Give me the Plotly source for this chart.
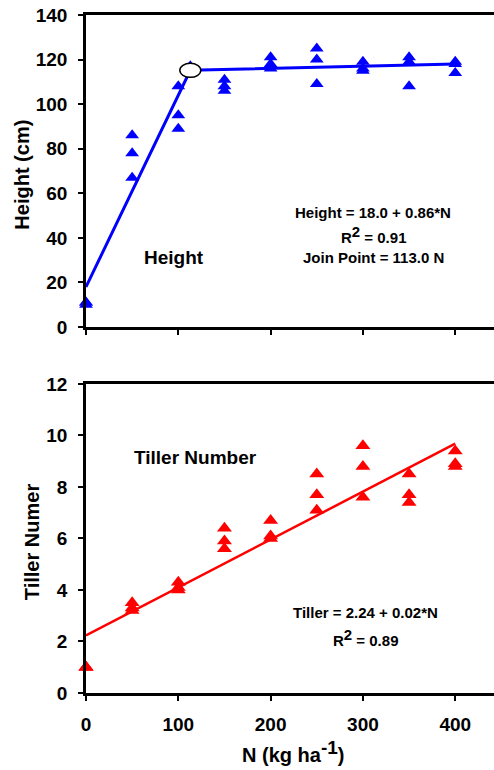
import plotly.graph_objects as go

# ---- data -------------------------------------------------------------
n_height = [0, 0, 0, 50, 50, 50, 100, 100, 100, 113, 150, 150, 150,
            200, 200, 200, 250, 250, 250, 300, 300, 300, 350, 350, 350,
            400, 400, 400]
height = [10, 11, 11, 86, 78, 67, 108, 95, 89, 117, 111, 108, 106,
          121, 118, 116, 125, 120, 109, 119, 116, 115, 121, 119, 108,
          119, 118, 114]

n_tiller = [0, 0, 0, 50, 50, 50, 100, 100, 100, 150, 150, 150,
            200, 200, 200, 250, 250, 250, 300, 300, 300, 350, 350, 350,
            400, 400, 400]
tiller = [1.0, 1.0, 1.0, 3.5, 3.3, 3.2, 4.3, 4.1, 4.0, 6.4, 5.9, 5.6,
          6.7, 6.1, 6.0, 8.5, 7.7, 7.1, 9.6, 8.8, 7.6, 8.5, 7.7, 7.4,
          9.4, 8.9, 8.8]

# linear-plateau fit for height
h_intercept = 18.0
h_slope = 0.86
join_n = 113.0
plateau_end_n = 400
plateau_end_h = 118.0

# linear fit for tiller number
t_intercept = 2.24
t_slope = 0.0186
t_end_n = 400

height_ticks = [0, 20, 40, 60, 80, 100, 120, 140]
tiller_ticks = [0, 2, 4, 6, 8, 10, 12]
n_ticks = [0, 100, 200, 300, 400]

# ---- figure -----------------------------------------------------------
FONT = "Liberation Sans, Arial, sans-serif"
join_h = h_intercept + h_slope * join_n

fig = go.Figure()

fig.add_trace(go.Scatter(
    x=n_height, y=height, mode="markers", xaxis="x", yaxis="y",
    marker=dict(symbol="triangle-up", size=12, color="#0000FF"),
    cliponaxis=False, showlegend=False))
fig.add_trace(go.Scatter(
    x=[0, join_n, plateau_end_n],
    y=[h_intercept, join_h, plateau_end_h],
    mode="lines", xaxis="x", yaxis="y",
    line=dict(color="#0000FF", width=3), showlegend=False))

fig.add_trace(go.Scatter(
    x=n_tiller, y=tiller, mode="markers", xaxis="x2", yaxis="y2",
    marker=dict(symbol="triangle-up", size=13, color="#FF0000"),
    cliponaxis=False, showlegend=False))
fig.add_trace(go.Scatter(
    x=[0, t_end_n], y=[t_intercept, t_intercept + t_slope * t_end_n],
    mode="lines", xaxis="x2", yaxis="y2",
    line=dict(color="#FF0000", width=2.5), showlegend=False))

tick_font = dict(family=FONT, size=19, color="black", weight="bold")

x_common = dict(range=[0, 442], tickvals=n_ticks, showline=True,
                linecolor="black", linewidth=2.5, mirror=True,
                ticks="outside", ticklen=5, tickwidth=2, tickcolor="black",
                showgrid=False, zeroline=False, tickfont=tick_font,
                ticklabelstandoff=7)
y_common = dict(showline=True, linecolor="black", linewidth=2.5,
                mirror=False, ticks="outside", ticklen=5, tickwidth=2,
                tickcolor="black", showgrid=False, zeroline=False,
                tickfont=tick_font, ticklabelstandoff=7)

fig.update_layout(
    width=494, height=770,
    margin=dict(l=86, r=0, t=15, b=77),
    paper_bgcolor="white", plot_bgcolor="white",
    xaxis=dict(**x_common, anchor="y", showticklabels=False),
    yaxis=dict(**y_common, range=[0, 140], tickvals=height_ticks,
               domain=[0.5398, 1.0], anchor="x"),
    xaxis2=dict(**x_common, anchor="y2"),
    yaxis2=dict(**y_common, range=[0, 12], tickvals=tiller_ticks,
                domain=[0.0, 0.4558], anchor="x2"),
)

# join point marker
fig.add_shape(type="circle", xref="x", yref="y",
              xsizemode="pixel", ysizemode="pixel",
              xanchor=join_n, yanchor=join_h,
              x0=-10.5, x1=10.5, y0=-7, y1=7,
              fillcolor="white", line=dict(color="black", width=1.5),
              layer="above")

lab_font = dict(family=FONT, size=19, color="black", weight="bold")
eq_font = dict(family=FONT, size=15, color="black", weight="bold")
title_font = dict(family=FONT, size=20, color="black", weight="bold")

SUP2 = "<sup><span style='font-size:15px'>2</span></sup>"

annotations = [
    dict(text="Height", x=95, y=31.3, xref="x", yref="y", font=lab_font),
    dict(text="Height = 18.0 + 0.86*N", x=311, y=51.5, xref="x", yref="y",
         font=eq_font),
    dict(text="R" + SUP2 + " = 0.91", x=311, y=41.6, xref="x", yref="y",
         font=eq_font),
    dict(text="Join Point = 113.0 N", x=311, y=31.3, xref="x", yref="y",
         font=eq_font),
    dict(text="Tiller Number", x=118.6, y=9.14, xref="x2", yref="y2",
         font=lab_font),
    dict(text="Tiller = 2.24 + 0.02*N", x=303, y=3.12, xref="x2", yref="y2",
         font=eq_font),
    dict(text="R" + SUP2 + " = 0.89", x=303, y=2.15, xref="x2", yref="y2",
         font=eq_font),
    dict(text="Height (cm)", x=-0.159, y=0.7647, xref="paper", yref="paper",
         textangle=-90, font=title_font),
    dict(text="Tiller Numer", x=-0.132, y=0.2227, xref="paper", yref="paper",
         textangle=-90, font=title_font),
    dict(text="N (kg ha<sup><span style='font-size:19px'>-1</span></sup>)",
         x=0.507, y=-0.086, xref="paper", yref="paper", font=title_font),
]
for a in annotations:
    fig.add_annotation(showarrow=False, xanchor="center", yanchor="middle", **a)

fig.write_html("out.html")
